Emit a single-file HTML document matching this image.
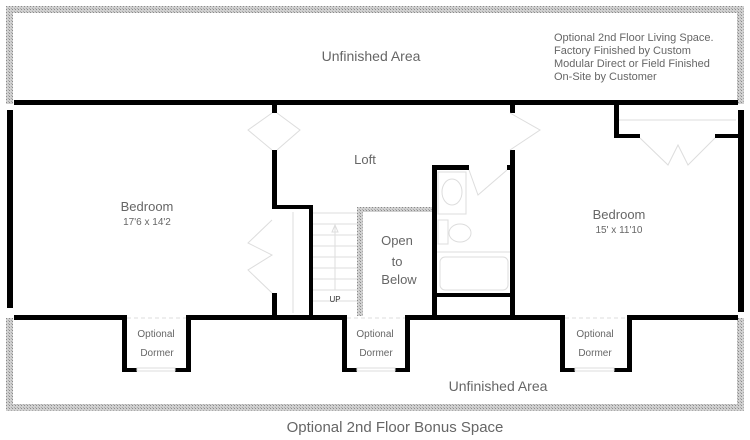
<!DOCTYPE html>
<html><head><style>
html,body{margin:0;padding:0;background:#fff;}
svg{display:block;}
text{font-family:"Liberation Sans",Arial,sans-serif;fill:#666;}
</style></head><body>
<svg width="750" height="440" viewBox="0 0 750 440" xmlns="http://www.w3.org/2000/svg">
<defs>
<pattern id="h" width="3" height="3" patternUnits="userSpaceOnUse">
<rect width="3" height="3" fill="#d0d0d0"/><rect width="1" height="1" fill="#8a8a8a"/><rect x="2" y="2" width="1" height="1" fill="#aaa"/>
</pattern>
</defs>
<rect x="6" y="6" width="738" height="7" fill="url(#h)"/>
<rect x="6" y="404" width="738" height="7" fill="url(#h)"/>
<rect x="6" y="6" width="7" height="98" fill="url(#h)"/>
<rect x="6" y="318" width="7" height="93" fill="url(#h)"/>
<rect x="737" y="6" width="7" height="98" fill="url(#h)"/>
<rect x="737" y="318" width="7" height="93" fill="url(#h)"/>

<g fill="#000">
<rect x="14" y="100" width="724" height="5"/>
<rect x="7" y="110" width="6" height="198"/>
<rect x="738" y="110" width="6" height="202"/>
<rect x="14" y="315" width="112" height="5"/>
<rect x="186" y="315" width="161" height="5"/>
<rect x="405" y="315" width="160" height="5"/>
<rect x="627" y="315" width="111" height="5"/>
<rect x="122" y="315" width="5" height="57"/><rect x="186" y="315" width="5" height="57"/>
<rect x="122" y="368" width="15" height="4"/><rect x="175" y="368" width="16" height="4"/>
<rect x="342" y="315" width="5" height="57"/><rect x="405" y="315" width="5" height="57"/>
<rect x="342" y="368" width="15" height="4"/><rect x="395" y="368" width="15" height="4"/>
<rect x="560" y="315" width="5" height="57"/><rect x="627" y="315" width="5" height="57"/>
<rect x="560" y="368" width="15" height="4"/><rect x="614" y="368" width="18" height="4"/>
<rect x="272" y="105" width="5" height="8"/>
<rect x="272" y="150" width="5" height="59"/>
<rect x="272" y="205" width="41" height="4"/>
<rect x="309" y="205" width="4" height="112"/>
<rect x="272" y="293" width="5" height="24"/>
<rect x="510" y="105" width="5" height="8"/>
<rect x="510" y="150" width="5" height="167"/>
<rect x="507" y="165" width="7" height="5"/>
<rect x="432" y="165" width="5" height="152"/>
<rect x="432" y="165" width="37" height="5"/>
<rect x="432" y="293" width="80" height="4"/>
<rect x="614" y="105" width="5" height="33"/>
<rect x="614" y="134" width="26" height="4"/>
<rect x="715" y="134" width="23" height="4"/>
</g>
<rect x="357" y="207" width="6" height="109" fill="url(#h)"/>
<rect x="357" y="207" width="75" height="5" fill="url(#h)"/>

<g stroke="#ddd" fill="none" stroke-width="1">
<line x1="313" y1="213" x2="357" y2="213"/><line x1="313" y1="224" x2="357" y2="224"/>
<line x1="313" y1="235" x2="357" y2="235"/><line x1="313" y1="246" x2="357" y2="246"/>
<line x1="313" y1="257" x2="357" y2="257"/><line x1="313" y1="268" x2="357" y2="268"/>
<line x1="313" y1="279" x2="357" y2="279"/><line x1="313" y1="290" x2="357" y2="290"/>
<line x1="313" y1="301" x2="357" y2="301"/>
<line x1="335" y1="225" x2="335" y2="290"/>
<path d="M332 232 L335 225 L338 232 Z"/>
<line x1="293" y1="212" x2="293" y2="313"/>
<path d="M272 113 L248 130 L272 150 M277 113 L300 130 L277 150"/>
<path d="M510 113 L540 130 L510 150"/>
<path d="M272 220 L248 243 L272 255 L248 270 L272 293"/>
<path d="M640 138 L668 165 L678 145 L688 165 L715 138"/>
<line x1="619" y1="120" x2="736" y2="120"/>
<path d="M469 170 L478 195 L507 170"/>
<line x1="127" y1="318" x2="186" y2="318" stroke-dasharray="4 3"/>
<line x1="347" y1="318" x2="405" y2="318" stroke-dasharray="4 3"/>
<line x1="565" y1="318" x2="627" y2="318" stroke-dasharray="4 3"/>
<rect x="137" y="368" width="38" height="3"/><rect x="357" y="368" width="38" height="3"/><rect x="575" y="368" width="39" height="3"/>
<rect x="438" y="172" width="28" height="42"/>
<ellipse cx="452" cy="192" rx="10" ry="13"/>
<rect x="438" y="220" width="10" height="24"/>
<ellipse cx="460" cy="233" rx="11" ry="9"/>
<line x1="437" y1="252" x2="510" y2="252"/>
<rect x="440" y="257" width="68" height="33" rx="5"/>
</g>

<text x="371" y="61" font-size="14" text-anchor="middle">Unfinished Area</text>
<g font-size="11">
<text x="554" y="41">Optional 2nd Floor Living Space.</text>
<text x="554" y="54">Factory Finished by Custom</text>
<text x="554" y="67">Modular Direct or Field Finished</text>
<text x="554" y="80">On-Site by Customer</text>
</g>
<text x="365" y="164" font-size="13" text-anchor="middle">Loft</text>
<text x="147" y="211" font-size="13" text-anchor="middle">Bedroom</text>
<text x="147" y="225" font-size="10" text-anchor="middle">17'6 x 14'2</text>
<text x="619" y="219" font-size="13" text-anchor="middle">Bedroom</text>
<text x="619" y="233" font-size="10" text-anchor="middle">15' x 11'10</text>
<text x="397" y="245" font-size="13" text-anchor="middle">Open</text>
<text x="397" y="266" font-size="13" text-anchor="middle">to</text>
<text x="399" y="284" font-size="13" text-anchor="middle">Below</text>
<text x="335" y="302" font-size="8" text-anchor="middle" style="fill:#333">UP</text>
<g font-size="10" text-anchor="middle">
<text x="156" y="337">Optional</text><text x="157" y="356">Dormer</text>
<text x="375" y="337">Optional</text><text x="376" y="356">Dormer</text>
<text x="595" y="337">Optional</text><text x="595" y="356">Dormer</text>
</g>
<text x="498" y="391" font-size="14" text-anchor="middle">Unfinished Area</text>
<text x="395" y="432" font-size="15" text-anchor="middle">Optional 2nd Floor Bonus Space</text>
</svg>
</body></html>
